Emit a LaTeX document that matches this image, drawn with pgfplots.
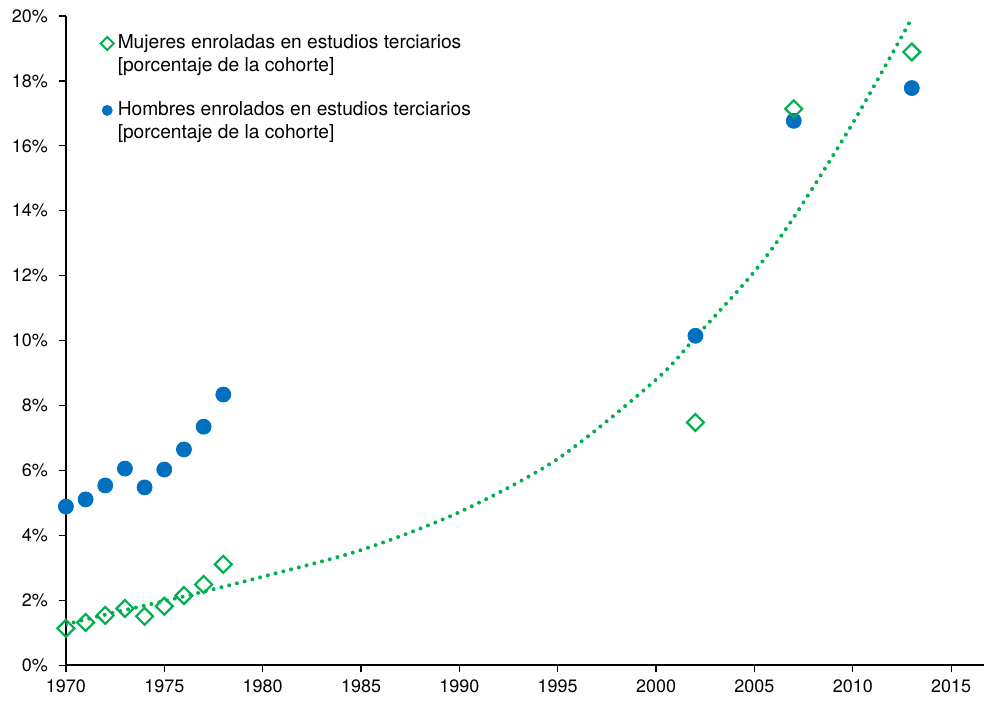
\documentclass[border=0pt]{standalone}
\usepackage{pgfplots}
\pgfplotsset{compat=1.18}
\usepackage{fontspec}
\setmainfont{TeX Gyre Heros}
\definecolor{mgreen}{RGB}{0,176,80}
\definecolor{mblue}{RGB}{0,112,192}
\begin{document}
\begin{tikzpicture}
\begin{axis}[
  scale only axis, width=459.5pt, height=325pt,
  xmin=1970, xmax=2016.67, ymin=0, ymax=20,
  axis lines*=left,
  xtick={1970,1975,...,2015}, ytick={0,2,...,20},
  yticklabel={\pgfmathprintnumber{\tick}\%},
  /pgf/number format/1000 sep={},
  /pgf/number format/assume math mode=true,
  tick align=outside, major tick length=3.5pt,
  tick style={black, line width=0.6pt},
  axis line style={line width=1pt},
  ticklabel style={font=\fontsize{9}{11}\selectfont},
  yticklabel style={xshift=-2pt},
  legend style={at={(axis cs:1971.75,19.55)}, anchor=north west, draw=none, fill=none,
    font=\fontsize{9.6}{11.5}\selectfont, cells={anchor=base west},
    row sep=21pt, inner sep=0pt},
  legend cell align=left,
]
\addlegendimage{only marks, mark=square, mark size=2.3pt, mark options={rotate=45, draw=mgreen, fill=none, line width=1pt}}
\addlegendentry{\vtop{\hbox{Mujeres enroladas en estudios terciarios}\hbox{[porcentaje de la cohorte]}}}
\addlegendimage{only marks, mark=*, mark size=2.5pt, mblue, mark options={draw=none, fill=mblue}}
\addlegendentry{\vtop{\hbox{Hombres enrolados en estudios terciarios}\hbox{[porcentaje de la cohorte]}}}

\addplot[forget plot, only marks, mblue, mark=*, mark size=3.75pt, mark options={draw=none, fill=mblue}] coordinates {
(1970,4.89) (1971,5.11) (1972,5.54) (1973,6.06) (1974,5.48) (1975,6.03) (1976,6.65) (1977,7.35) (1978,8.34)
(2002,10.15) (2007,16.77) (2013,17.78)};

\addplot[forget plot, only marks, mgreen, mark=square, mark size=3pt, mark options={rotate=45, draw=mgreen, fill=none, line width=1.1pt}] coordinates {
(1970,1.14) (1971,1.32) (1972,1.54) (1973,1.75) (1974,1.51) (1975,1.82) (1976,2.15) (1977,2.49) (1978,3.11)
(2002,7.48) (2007,17.14) (2013,18.89)};

\addplot[forget plot, no marks, smooth, mgreen, line width=2pt, line cap=round, dash pattern=on 0pt off 4pt] coordinates {
(1970,1.26) (1972,1.56) (1975,1.98) (1977,2.27) (1980,2.73) (1985,3.55) (1990,4.72) (1995,6.36) (2000,8.8) (2002,10.1) (2005,12.13) (2007,13.8) (2010,16.70) (2013,19.93)};
\end{axis}
\path ([shift={(-33pt,-18pt)}]current axis.south west) rectangle ([shift={(0pt,8pt)}]current axis.north east);
\end{tikzpicture}
\end{document}
